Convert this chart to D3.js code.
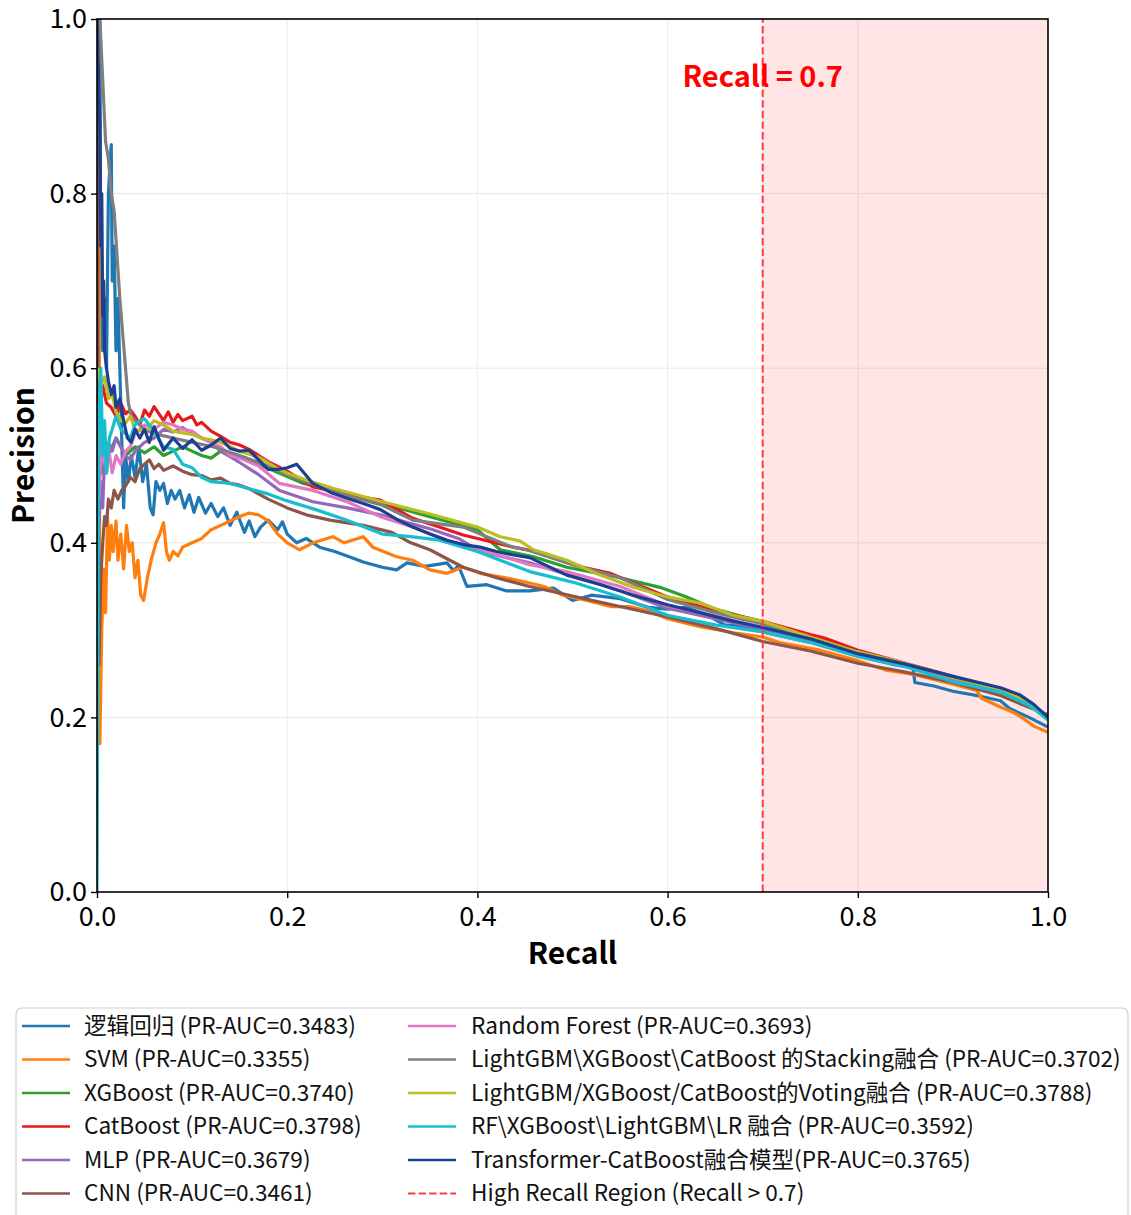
<!DOCTYPE html>
<html>
<head>
<meta charset="utf-8">
<script src="https://cdn.jsdelivr.net/npm/d3@7"></script>
<style>
body { margin: 0; background: #fff; }
svg { display: block; }
text { font-family: "Noto Sans CJK SC", "Noto Sans", sans-serif; }
</style>
</head>
<body>
<script>
// recall / precision pairs
const curveLR = [[0,1.0],[0.003,1.0],[0.004,0.7],[0.006,0.62],[0.008,0.68],[0.01,0.6],[0.012,0.8],[0.015,0.856],[0.016,0.7],[0.018,0.74],[0.02,0.62],[0.022,0.68],[0.024,0.6],[0.026,0.52],[0.028,0.44],[0.03,0.5],[0.033,0.47],[0.036,0.5],[0.04,0.475],[0.044,0.51],[0.048,0.47],[0.052,0.49],[0.056,0.44],[0.059,0.432],[0.062,0.47],[0.066,0.46],[0.07,0.468],[0.074,0.445],[0.078,0.46],[0.082,0.45],[0.087,0.46],[0.092,0.44],[0.097,0.455],[0.102,0.435],[0.107,0.452],[0.114,0.434],[0.12,0.445],[0.127,0.43],[0.133,0.44],[0.14,0.42],[0.147,0.435],[0.155,0.412],[0.16,0.425],[0.166,0.407],[0.172,0.418],[0.18,0.426],[0.19,0.415],[0.195,0.424],[0.2,0.41],[0.21,0.4],[0.22,0.405],[0.234,0.395],[0.25,0.39],[0.263,0.385],[0.28,0.378],[0.3,0.372],[0.315,0.369],[0.326,0.377],[0.345,0.373],[0.368,0.377],[0.375,0.368],[0.38,0.374],[0.389,0.35],[0.41,0.352],[0.43,0.345],[0.455,0.345],[0.48,0.348],[0.5,0.334],[0.52,0.34],[0.55,0.336],[0.58,0.326],[0.6,0.324],[0.62,0.326],[0.64,0.318],[0.66,0.306],[0.68,0.304],[0.7,0.298],[0.75,0.286],[0.8,0.27],[0.84,0.26],[0.858,0.257],[0.86,0.24],[0.88,0.236],[0.9,0.23],[0.93,0.224],[0.95,0.219],[0.96,0.21],[0.98,0.2],[1.0,0.189]];

const curveSVM = [[0,1.0],[0.002,0.93],[0.003,0.17],[0.005,0.3],[0.007,0.37],[0.009,0.32],[0.011,0.43],[0.013,0.38],[0.015,0.42],[0.017,0.39],[0.02,0.425],[0.022,0.38],[0.025,0.41],[0.028,0.37],[0.031,0.42],[0.034,0.39],[0.037,0.4],[0.04,0.36],[0.043,0.38],[0.046,0.34],[0.049,0.334],[0.053,0.36],[0.057,0.38],[0.062,0.4],[0.066,0.41],[0.07,0.423],[0.073,0.39],[0.076,0.38],[0.08,0.39],[0.085,0.385],[0.09,0.395],[0.1,0.4],[0.11,0.405],[0.12,0.415],[0.13,0.42],[0.14,0.425],[0.15,0.43],[0.16,0.434],[0.17,0.432],[0.18,0.425],[0.19,0.41],[0.2,0.4],[0.213,0.392],[0.227,0.4],[0.248,0.407],[0.26,0.4],[0.28,0.407],[0.29,0.395],[0.315,0.384],[0.332,0.38],[0.35,0.369],[0.368,0.365],[0.385,0.372],[0.403,0.365],[0.43,0.36],[0.455,0.354],[0.47,0.35],[0.49,0.34],[0.515,0.334],[0.54,0.327],[0.56,0.327],[0.58,0.322],[0.6,0.313],[0.634,0.304],[0.67,0.297],[0.7,0.292],[0.72,0.285],[0.76,0.277],[0.8,0.265],[0.83,0.254],[0.86,0.249],[0.9,0.238],[0.925,0.231],[0.93,0.222],[0.95,0.212],[0.965,0.205],[0.975,0.198],[0.985,0.19],[1.0,0.183]];

const curveXGB = [[0.002,0.5],[0.005,0.48],[0.008,0.51],[0.012,0.5],[0.02,0.52],[0.03,0.5],[0.04,0.51],[0.05,0.503],[0.06,0.51],[0.07,0.5],[0.08,0.505],[0.09,0.51],[0.1,0.505],[0.11,0.5],[0.12,0.497],[0.13,0.505],[0.15,0.498],[0.17,0.49],[0.2,0.476],[0.217,0.468],[0.25,0.46],[0.3,0.445],[0.35,0.43],[0.4,0.415],[0.424,0.392],[0.459,0.384],[0.494,0.372],[0.55,0.36],[0.592,0.349],[0.62,0.338],[0.65,0.324],[0.7,0.309],[0.75,0.293],[0.8,0.276],[0.85,0.261],[0.9,0.246],[0.95,0.231],[0.98,0.217],[1.0,0.199]];

const curveCat = [[0.004,0.57],[0.006,0.58],[0.01,0.56],[0.015,0.555],[0.02,0.545],[0.025,0.56],[0.03,0.548],[0.035,0.552],[0.04,0.545],[0.045,0.535],[0.05,0.552],[0.055,0.545],[0.06,0.556],[0.065,0.548],[0.07,0.54],[0.075,0.55],[0.08,0.538],[0.085,0.547],[0.09,0.54],[0.1,0.545],[0.105,0.535],[0.11,0.538],[0.12,0.528],[0.13,0.522],[0.14,0.515],[0.15,0.512],[0.16,0.507],[0.17,0.5],[0.18,0.493],[0.2,0.482],[0.227,0.464],[0.245,0.46],[0.263,0.455],[0.298,0.449],[0.332,0.428],[0.36,0.418],[0.385,0.409],[0.438,0.395],[0.47,0.388],[0.511,0.372],[0.54,0.365],[0.6,0.338],[0.65,0.322],[0.7,0.31],[0.75,0.295],[0.765,0.291],[0.8,0.277],[0.85,0.262],[0.9,0.247],[0.95,0.232],[0.98,0.217],[1.0,0.2]];

const curveMLP = [[0.002,0.42],[0.004,0.47],[0.006,0.44],[0.008,0.5],[0.01,0.48],[0.012,0.515],[0.016,0.505],[0.02,0.52],[0.025,0.51],[0.03,0.5],[0.035,0.495],[0.04,0.505],[0.05,0.515],[0.06,0.52],[0.07,0.53],[0.08,0.527],[0.09,0.532],[0.1,0.525],[0.11,0.52],[0.12,0.515],[0.13,0.505],[0.15,0.492],[0.17,0.478],[0.192,0.46],[0.227,0.447],[0.263,0.44],[0.298,0.432],[0.33,0.422],[0.35,0.416],[0.38,0.405],[0.403,0.39],[0.455,0.377],[0.5,0.362],[0.55,0.345],[0.6,0.325],[0.65,0.313],[0.7,0.301],[0.75,0.288],[0.8,0.272],[0.85,0.259],[0.9,0.244],[0.95,0.231],[0.98,0.216],[1.0,0.199]];

const curveCNN = [[0,1.0],[0.002,0.26],[0.004,0.36],[0.006,0.4],[0.008,0.43],[0.01,0.42],[0.012,0.45],[0.015,0.44],[0.018,0.46],[0.022,0.45],[0.026,0.46],[0.03,0.465],[0.035,0.475],[0.04,0.47],[0.045,0.485],[0.05,0.49],[0.055,0.495],[0.06,0.485],[0.065,0.49],[0.07,0.483],[0.08,0.488],[0.09,0.482],[0.1,0.478],[0.11,0.477],[0.12,0.472],[0.13,0.474],[0.14,0.468],[0.15,0.466],[0.16,0.462],[0.18,0.45],[0.2,0.44],[0.22,0.432],[0.245,0.426],[0.28,0.42],[0.31,0.412],[0.33,0.4],[0.35,0.392],[0.385,0.372],[0.42,0.36],[0.455,0.35],[0.5,0.339],[0.55,0.327],[0.6,0.315],[0.65,0.302],[0.7,0.287],[0.75,0.276],[0.8,0.262],[0.85,0.252],[0.9,0.24],[0.95,0.225],[0.97,0.216],[1.0,0.203]];

const curveRF = [[0.002,0.45],[0.005,0.52],[0.008,0.49],[0.012,0.51],[0.016,0.48],[0.02,0.5],[0.025,0.49],[0.03,0.505],[0.035,0.51],[0.04,0.525],[0.05,0.535],[0.06,0.53],[0.07,0.538],[0.08,0.535],[0.09,0.53],[0.1,0.528],[0.11,0.52],[0.12,0.515],[0.13,0.51],[0.14,0.5],[0.15,0.497],[0.17,0.488],[0.192,0.468],[0.227,0.46],[0.263,0.447],[0.298,0.43],[0.332,0.418],[0.368,0.403],[0.403,0.392],[0.455,0.375],[0.494,0.367],[0.55,0.35],[0.6,0.328],[0.65,0.316],[0.7,0.303],[0.75,0.29],[0.8,0.273],[0.85,0.26],[0.9,0.245],[0.95,0.232],[0.98,0.217],[1.0,0.199]];

const curveStack = [[0,1.0],[0.003,1.0],[0.006,0.93],[0.009,0.86],[0.012,0.84],[0.015,0.8],[0.018,0.78],[0.021,0.73],[0.024,0.68],[0.027,0.64],[0.03,0.6],[0.033,0.56],[0.036,0.545],[0.04,0.54],[0.05,0.53],[0.06,0.525],[0.08,0.52],[0.1,0.515],[0.122,0.51],[0.15,0.5],[0.18,0.488],[0.2,0.478],[0.25,0.458],[0.3,0.443],[0.332,0.426],[0.385,0.418],[0.437,0.395],[0.452,0.392],[0.5,0.375],[0.55,0.36],[0.6,0.335],[0.65,0.32],[0.7,0.307],[0.75,0.291],[0.8,0.275],[0.85,0.261],[0.9,0.246],[0.95,0.231],[0.98,0.216],[1.0,0.198]];

const curveVote = [[0.001,0.6],[0.004,0.58],[0.008,0.59],[0.012,0.565],[0.016,0.57],[0.02,0.55],[0.025,0.54],[0.03,0.537],[0.035,0.545],[0.04,0.53],[0.05,0.527],[0.06,0.54],[0.07,0.535],[0.08,0.528],[0.09,0.526],[0.1,0.524],[0.11,0.52],[0.12,0.518],[0.13,0.515],[0.14,0.51],[0.15,0.505],[0.17,0.498],[0.19,0.485],[0.2,0.48],[0.22,0.472],[0.25,0.462],[0.3,0.447],[0.35,0.433],[0.4,0.418],[0.424,0.407],[0.445,0.402],[0.459,0.392],[0.494,0.38],[0.529,0.363],[0.564,0.349],[0.6,0.338],[0.634,0.331],[0.669,0.317],[0.7,0.31],[0.75,0.292],[0.8,0.275],[0.85,0.262],[0.9,0.246],[0.95,0.232],[0.98,0.218],[1.0,0.199]];

const curveFusion = [[0,0.0],[0.001,0.3],[0.002,0.55],[0.004,0.6],[0.006,0.5],[0.008,0.54],[0.01,0.48],[0.013,0.52],[0.016,0.53],[0.02,0.545],[0.025,0.53],[0.03,0.525],[0.035,0.52],[0.04,0.535],[0.045,0.54],[0.05,0.542],[0.055,0.535],[0.06,0.527],[0.07,0.51],[0.08,0.507],[0.09,0.49],[0.1,0.486],[0.11,0.475],[0.12,0.47],[0.14,0.468],[0.16,0.462],[0.18,0.456],[0.2,0.448],[0.23,0.438],[0.26,0.427],[0.3,0.41],[0.33,0.407],[0.36,0.403],[0.4,0.39],[0.455,0.367],[0.5,0.355],[0.55,0.338],[0.6,0.317],[0.65,0.306],[0.7,0.298],[0.75,0.286],[0.8,0.27],[0.85,0.258],[0.9,0.241],[0.95,0.229],[0.98,0.214],[1.0,0.197]];

const curveTrans = [[0,1.0],[0.003,0.88],[0.004,0.74],[0.005,0.8],[0.006,0.66],[0.007,0.7],[0.008,0.62],[0.01,0.6],[0.012,0.585],[0.015,0.57],[0.018,0.58],[0.02,0.555],[0.024,0.565],[0.028,0.54],[0.032,0.52],[0.036,0.515],[0.04,0.53],[0.045,0.52],[0.05,0.53],[0.055,0.515],[0.06,0.533],[0.07,0.506],[0.08,0.52],[0.09,0.508],[0.1,0.518],[0.11,0.506],[0.12,0.512],[0.13,0.52],[0.14,0.508],[0.15,0.505],[0.16,0.506],[0.17,0.495],[0.18,0.484],[0.19,0.484],[0.2,0.486],[0.21,0.49],[0.227,0.468],[0.245,0.458],[0.263,0.451],[0.28,0.445],[0.298,0.438],[0.315,0.427],[0.332,0.418],[0.35,0.41],[0.368,0.403],[0.385,0.398],[0.403,0.395],[0.42,0.39],[0.438,0.386],[0.455,0.383],[0.494,0.363],[0.53,0.352],[0.564,0.34],[0.6,0.329],[0.634,0.32],[0.67,0.31],[0.7,0.303],[0.75,0.29],[0.8,0.273],[0.85,0.261],[0.9,0.247],[0.95,0.234],[0.97,0.226],[0.985,0.215],[1.0,0.2]];

const legendLabels = [
  "逻辑回归 (PR-AUC=0.3483)",
  "SVM (PR-AUC=0.3355)",
  "XGBoost (PR-AUC=0.3740)",
  "CatBoost (PR-AUC=0.3798)",
  "MLP (PR-AUC=0.3679)",
  "CNN (PR-AUC=0.3461)",
  "Random Forest (PR-AUC=0.3693)",
  "LightGBM\\XGBoost\\CatBoost 的Stacking融合 (PR-AUC=0.3702)",
  "LightGBM/XGBoost/CatBoost的Voting融合 (PR-AUC=0.3788)",
  "RF\\XGBoost\\LightGBM\\LR 融合 (PR-AUC=0.3592)",
  "Transformer-CatBoost融合模型(PR-AUC=0.3765)"
];
const curves = [curveLR, curveSVM, curveXGB, curveCat, curveMLP, curveCNN,
  curveRF, curveStack, curveVote, curveFusion, curveTrans];
const colors = ["#1f77b4", "#ff7f0e", "#2ca02c", "#e8191c", "#9467bd", "#8c564b",
  "#e377c2", "#7f7f7f", "#bcbd22", "#17becf", "#1d3f93"];
const ticks = [0, 0.2, 0.4, 0.6, 0.8, 1.0];
const recallThreshold = 0.7;

const W = 1131, H = 1215;
const svg = d3.select("body").append("svg")
  .attr("width", W)
  .attr("height", H);

svg.append("rect").attr("width", W).attr("height", H).attr("fill", "#fff");

const x = d3.scaleLinear().domain([0, 1]).range([97, 1048]);
const y = d3.scaleLinear().domain([0, 1]).range([892, 19]);

svg.append("clipPath").attr("id", "plotclip")
  .append("rect")
  .attr("x", x(0)).attr("y", y(1))
  .attr("width", x(1) - x(0)).attr("height", y(0) - y(1));

// grid
svg.append("g").selectAll("line.gy")
  .data(ticks.slice(1, 5))
  .enter().append("line")
  .attr("x1", x(0)).attr("x2", x(1))
  .attr("y1", d => y(d)).attr("y2", d => y(d))
  .attr("stroke", "#e8e8e8").attr("stroke-width", 1);
svg.append("g").selectAll("line.gx")
  .data(ticks.slice(1, 5))
  .enter().append("line")
  .attr("y1", y(0)).attr("y2", y(1))
  .attr("x1", d => x(d)).attr("x2", d => x(d))
  .attr("stroke", "#ececec").attr("stroke-width", 1);

// high recall region
svg.append("rect")
  .attr("x", x(recallThreshold)).attr("y", y(1))
  .attr("width", x(1) - x(recallThreshold)).attr("height", y(0) - y(1))
  .attr("fill", "red").attr("fill-opacity", 0.1);

// curves
const line = d3.line().x(d => x(d[0])).y(d => y(d[1]));
svg.append("g").attr("clip-path", "url(#plotclip)")
  .selectAll("path")
  .data(curves)
  .enter().append("path")
  .attr("d", line)
  .attr("fill", "none")
  .attr("stroke", (d, i) => colors[i])
  .attr("stroke-width", 3.2)
  .attr("stroke-linejoin", "round");

// threshold line
svg.append("line")
  .attr("x1", x(recallThreshold)).attr("x2", x(recallThreshold))
  .attr("y1", y(0)).attr("y2", y(1))
  .attr("stroke", "#ff3b3b").attr("stroke-width", 2)
  .attr("stroke-dasharray", "7.4,3.2");

svg.append("text")
  .attr("x", x(recallThreshold)).attr("y", 87)
  .attr("text-anchor", "middle")
  .attr("font-size", 29).attr("font-weight", "bold")
  .attr("fill", "#ff0000")
  .text("Recall = 0.7");

// axes
const xAxis = svg.append("g").attr("transform", "translate(0," + y(0) + ")")
  .call(d3.axisBottom(x).tickValues(ticks).tickFormat(d3.format(".1f")).tickSize(6).tickPadding(9));
const yAxis = svg.append("g").attr("transform", "translate(" + x(0) + ",0)")
  .call(d3.axisLeft(y).tickValues(ticks).tickFormat(d3.format(".1f")).tickSize(6).tickPadding(4));
[xAxis, yAxis].forEach(a => {
  a.select(".domain").remove();
  a.selectAll(".tick line").attr("stroke", "#000").attr("stroke-width", 1.4);
  a.selectAll(".tick text").attr("fill", "#000").attr("font-size", 27)
    .attr("font-family", "\"Noto Sans CJK SC\", \"Noto Sans\", sans-serif");
});

svg.append("rect")
  .attr("x", x(0)).attr("y", y(1))
  .attr("width", x(1) - x(0)).attr("height", y(0) - y(1))
  .attr("fill", "none").attr("stroke", "#000").attr("stroke-width", 1.6);

svg.append("text")
  .attr("x", (x(0) + x(1)) / 2).attr("y", 964)
  .attr("text-anchor", "middle")
  .attr("font-size", 30).attr("font-weight", "bold")
  .text("Recall");

svg.append("text")
  .attr("transform", "translate(34," + (y(0) + y(1)) / 2 + ") rotate(-90)")
  .attr("text-anchor", "middle")
  .attr("font-size", 30).attr("font-weight", "bold")
  .text("Precision");

// legend
const legend = svg.append("g");
legend.append("rect")
  .attr("x", 16).attr("y", 1008)
  .attr("width", 1112).attr("height", 240)
  .attr("rx", 6)
  .attr("fill", "#fff").attr("stroke", "#cfcfcf").attr("stroke-width", 1.2);

const legendItems = legendLabels.map((t, i) => ({ label: t, color: colors[i], dashed: false }));
legendItems.push({ label: "High Recall Region (Recall > 0.7)", color: "#ff3b3b", dashed: true });

legendItems.forEach((d, i) => {
  const col = i < 6 ? 0 : 1;
  const row = i < 6 ? i : i - 6;
  const lx = col === 0 ? 22 : 408;
  const tx = col === 0 ? 84 : 471;
  const cy = 1026 + row * 33.5;
  legend.append("line")
    .attr("x1", lx).attr("x2", lx + 48)
    .attr("y1", cy).attr("y2", cy)
    .attr("stroke", d.color).attr("stroke-width", d.dashed ? 2 : 2.6)
    .attr("stroke-dasharray", d.dashed ? "7.4,3.2" : null);
  legend.append("text")
    .attr("x", tx).attr("y", cy)
    .attr("dy", "0.35em")
    .attr("font-size", 22.6)
    .attr("fill", "#111")
    .text(d.label);
});
</script>
</body>
</html>
